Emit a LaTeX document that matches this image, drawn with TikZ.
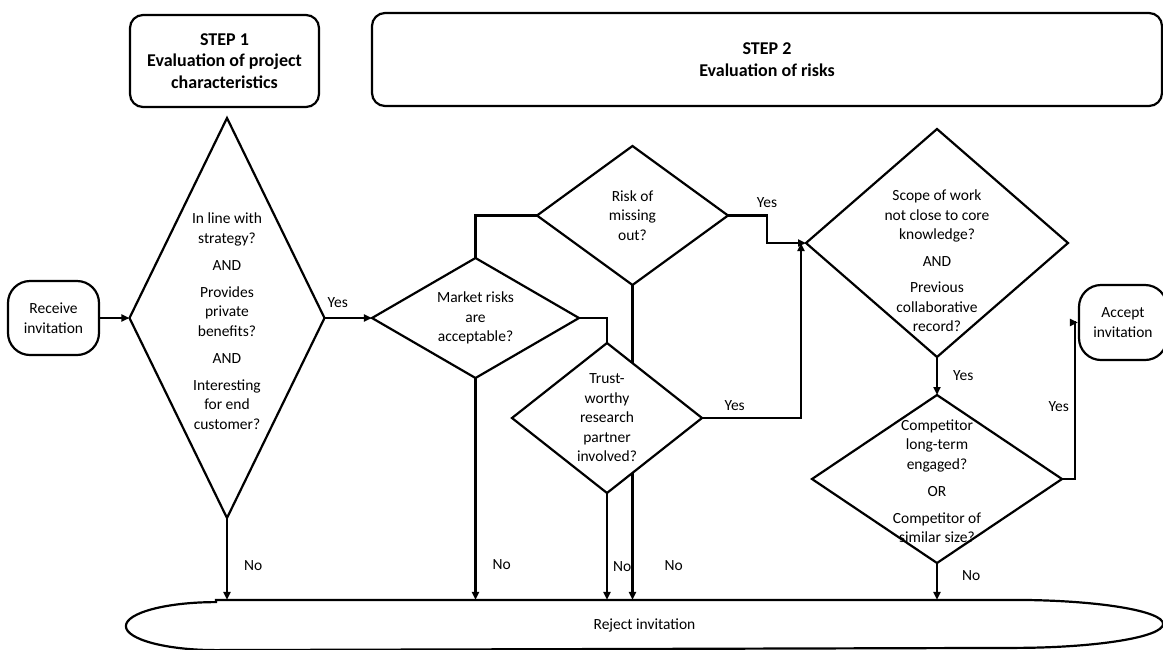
\documentclass[tikz,border=0pt]{standalone}
\usepackage{fontspec}
\setmainfont{Carlito}
\usetikzlibrary{shapes.geometric,arrows.meta}
\newcommand\qfont{\fontsize{15.5}{19.5}\selectfont}

\begin{document}
\begin{tikzpicture}[x=1pt,y=-1pt,line width=2.2pt]
    \tikzstyle{stepbox}=[draw,rounded corners=13pt,align=center,inner sep=0pt,font=\fontsize{18}{21.5}\selectfont\bfseries]
    \tikzstyle{term}=[draw,rounded corners=22pt,align=center,inner sep=0pt,font=\qfont]
    \tikzstyle{decision}=[diamond,draw,fill=white,inner sep=0pt,outer sep=0pt]
    \tikzstyle{qtext}=[align=center,inner sep=0pt,font=\qfont]
    \tikzstyle{lab}=[inner sep=1pt,font=\qfont]
    \tikzstyle{arr}=[-{Triangle[length=8pt,width=7pt]}]
    \useasboundingbox (0,0) rectangle (1163,649);
    % headers
    \node[stepbox,minimum width=189pt,minimum height=92pt] at (224.5,61) (step1) {STEP 1\\Evaluation of project\\characteristics};
    \node[stepbox,minimum width=790pt,minimum height=93pt] at (767,59.5) (step2) {STEP 2\\Evaluation of risks};
    % start and end
    \node[term,minimum width=91pt,minimum height=74pt] at (53.5,318) (receive) {Receive\\invitation};
    \node[term,minimum width=88pt,minimum height=75pt] at (1123,322.5) (accept) {Accept\\invitation};
    \node[font=\qfont,minimum width=1035pt,minimum height=48pt] at (644.5,625) (reject) {Reject invitation};
    \draw ([xshift=90pt]reject.north west) -- ([xshift=-150pt]reject.north east)
      arc[start angle=90,end angle=-90,x radius=150pt,y radius=24pt]
      -- ([xshift=90pt]reject.south west)
      arc[start angle=270,end angle=90,x radius=90pt,y radius=24pt] -- cycle;
    % questions
    \node[decision,minimum width=195pt,minimum height=400pt,
      label={[qtext,yshift=-3pt]center:{In line with\\strategy?\\[7.5pt]AND\\[7.5pt]Provides\\private\\benefits?\\[7.5pt]AND\\[7.5pt]Interesting\\for end\\customer?}}]
      at (227,318) (q1) {};
    \node[decision,minimum width=207pt,minimum height=120pt,
      label={[qtext]center:{Market risks\\are\\acceptable?}}] at (475.5,318) (market) {};
    \node[decision,minimum width=191pt,minimum height=139pt,
      label={[qtext]center:{Risk of\\missing\\out?}}] at (632.5,215.5) (risk) {};
    \node[decision,minimum width=262pt,minimum height=228pt,
      label={[qtext,yshift=-18pt]center:{Scope of work\\not close to core\\knowledge?\\[7pt]AND\\[7pt]Previous\\collaborative\\record?}}]
      at (937,243) (scope) {};
    \node[decision,minimum width=250pt,minimum height=168pt,
      label={[qtext,yshift=-2pt]center:{Competitor\\long-term\\engaged?\\[7.5pt]OR\\[7.5pt]Competitor of\\similar size?}}]
      at (937,479) (comp) {};
    % runs behind the trust question
    \draw[arr] (risk.south) -- node[lab,right=30pt,pos=0.89]{No} (risk.south |- reject.north);
    \node[decision,minimum width=190pt,minimum height=150pt,
      label={[qtext]center:{Trust-\\worthy\\research\\partner\\involved?}}] at (607,418) (trust) {};
    % connectors
    \draw[arr] (receive) -- (q1);
    \draw[arr] (q1) -- node[lab,above=8pt,pos=0.28]{Yes} (market);
    \draw (market.north) |- (risk.west);
    \draw (market.east) -| (trust.north);
    \draw[arr] (risk.east) -- node[lab,above=6pt,pos=1]{Yes} ++(39,0) |- (scope.west);
    \draw[arr] (trust.east) -| node[lab,above=5pt,pos=0.165]{Yes} ([xshift=-5pt]scope.west);
    \draw[arr] (scope) -- node[lab,right=14pt]{Yes} (comp);
    \draw[arr] (comp.east) -- ++(13,0) |- node[lab,left=4pt,pos=0.23]{Yes} (accept.west);
    \foreach \n/\p/\d in {q1/0.58/15pt,market/0.84/15pt,trust/0.69/4pt,comp/0.34/23pt}
      {\draw[arr] (\n.south) -- node[lab,right=\d,pos=\p]{No} (\n.south |- reject.north);}
\end{tikzpicture}
\end{document}
